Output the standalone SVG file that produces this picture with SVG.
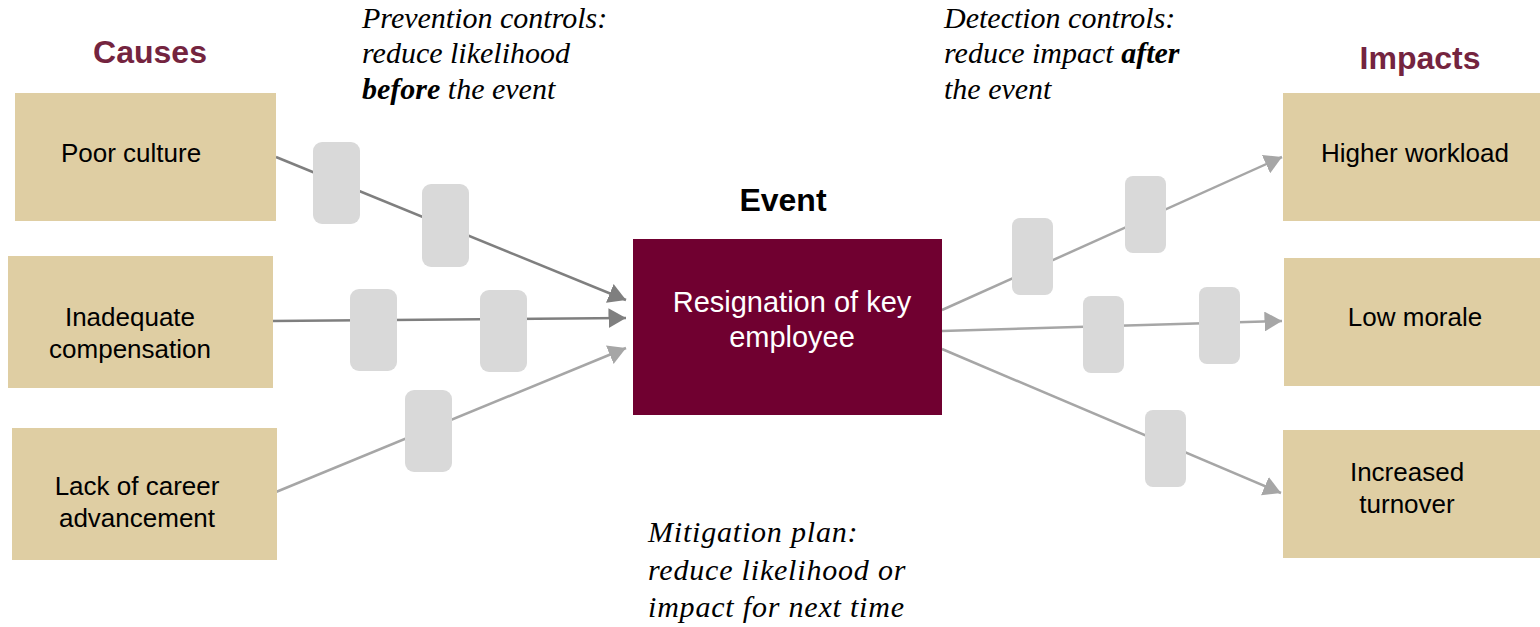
<svg xmlns="http://www.w3.org/2000/svg" width="1540" height="627" viewBox="0 0 1540 627">
<style>
.box{fill:#DFCEA3}
.ev{fill:#700030}
.ctl{fill:#D9D9D9}
.lbl{font-family:"Liberation Sans",Arial,sans-serif;font-size:26px;fill:#000;text-anchor:middle}
.evl{font-family:"Liberation Sans",Arial,sans-serif;font-size:29px;fill:#fff;text-anchor:middle}
.ttl{font-family:"Liberation Sans",Arial,sans-serif;font-size:32px;font-weight:bold;fill:#74243F;text-anchor:middle}
.note{font-family:"Liberation Serif","Times New Roman",serif;font-size:30px;font-style:italic;fill:#000}
.mit{letter-spacing:0.8px}
.dk{stroke:#7F7F7F;stroke-width:2.5;fill:none}
.lt{stroke:#A6A6A6;stroke-width:2.5;fill:none}
</style>
<defs>
<marker id="ad" markerWidth="8" markerHeight="8" refX="7" refY="4" orient="auto" markerUnits="strokeWidth"><path d="M0,0 L7,4 L0,8 z" fill="#7F7F7F"/></marker>
<marker id="al" markerWidth="8" markerHeight="8" refX="7" refY="4" orient="auto" markerUnits="strokeWidth"><path d="M0,0 L7,4 L0,8 z" fill="#A6A6A6"/></marker>
</defs>
<rect width="1540" height="627" fill="#fff"/>
<text class="ttl" x="150" y="63">Causes</text>
<text class="ttl" x="1420" y="69">Impacts</text>
<text class="ttl" x="783" y="211" style="fill:#000">Event</text>
<text class="note" x="362" y="28">Prevention controls:</text>
<text class="note" x="362" y="63">reduce likelihood</text>
<text class="note" x="362" y="99"><tspan font-weight="bold">before</tspan> the event</text>
<text class="note" x="944" y="28">Detection controls:</text>
<text class="note" x="944" y="63">reduce impact <tspan font-weight="bold">after</tspan></text>
<text class="note" x="944" y="99">the event</text>
<text class="note mit" x="648" y="542">Mitigation plan:</text>
<text class="note mit" x="648" y="580">reduce likelihood or</text>
<text class="note mit" x="648" y="617">impact for next time</text>
<g id="connectors">
<line class="dk" x1="276" y1="157" x2="626" y2="300" marker-end="url(#ad)"/>
<line class="dk" x1="272" y1="321" x2="626" y2="318" marker-end="url(#ad)"/>
<line class="lt" x1="276" y1="492" x2="626" y2="348" marker-end="url(#al)"/>
<line class="lt" x1="942" y1="310" x2="1282" y2="157" marker-end="url(#al)"/>
<line class="lt" x1="942" y1="331" x2="1282" y2="321" marker-end="url(#al)"/>
<line class="lt" x1="942" y1="349" x2="1281" y2="493" marker-end="url(#al)"/>
</g>
<g id="controls">
<rect class="ctl" x="313" y="142" width="47" height="82" rx="9"/>
<rect class="ctl" x="422" y="184" width="47" height="83" rx="9"/>
<rect class="ctl" x="350" y="289" width="47" height="82" rx="9"/>
<rect class="ctl" x="480" y="290" width="47" height="82" rx="9"/>
<rect class="ctl" x="405" y="390" width="47" height="82" rx="9"/>
<rect class="ctl" x="1012" y="218" width="41" height="77" rx="8"/>
<rect class="ctl" x="1125" y="176" width="41" height="77" rx="8"/>
<rect class="ctl" x="1083" y="296" width="41" height="77" rx="8"/>
<rect class="ctl" x="1199" y="287" width="41" height="77" rx="8"/>
<rect class="ctl" x="1145" y="410" width="41" height="77" rx="8"/>
</g>
<g id="cause-poor-culture">
<rect class="box" x="15" y="93" width="261" height="128"/>
<text class="lbl" x="131" y="162">Poor culture</text>
</g>
<g id="cause-compensation">
<rect class="box" x="8" y="256" width="265" height="132"/>
<text class="lbl" x="130" y="326">Inadequate</text>
<text class="lbl" x="130" y="358">compensation</text>
</g>
<g id="cause-career">
<rect class="box" x="12" y="428" width="265" height="132"/>
<text class="lbl" x="137" y="495">Lack of career</text>
<text class="lbl" x="137" y="527">advancement</text>
</g>
<g id="event">
<rect class="ev" x="633" y="239" width="309" height="176"/>
<text class="evl" x="792" y="312">Resignation of key</text>
<text class="evl" x="792" y="347">employee</text>
</g>
<g id="impact-workload">
<rect class="box" x="1283" y="93" width="257" height="128"/>
<text class="lbl" x="1415" y="162">Higher workload</text>
</g>
<g id="impact-morale">
<rect class="box" x="1284" y="258" width="256" height="128"/>
<text class="lbl" x="1415" y="326">Low morale</text>
</g>
<g id="impact-turnover">
<rect class="box" x="1283" y="430" width="257" height="128"/>
<text class="lbl" x="1407" y="481">Increased</text>
<text class="lbl" x="1407" y="513">turnover</text>
</g>
</svg>
